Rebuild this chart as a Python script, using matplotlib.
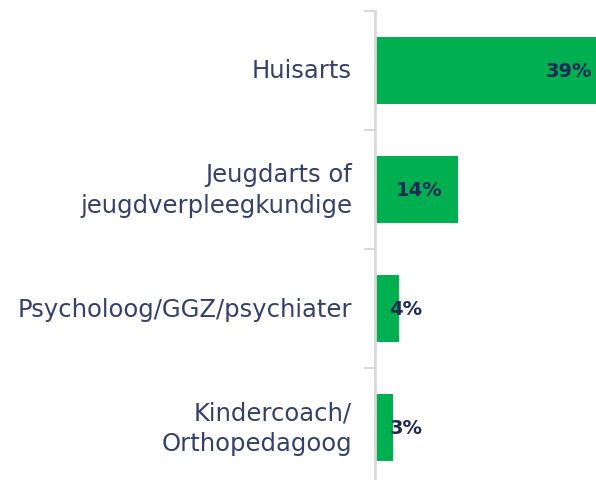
import matplotlib
matplotlib.use('Agg')
import matplotlib.pyplot as plt
import numpy as np

# Data
categories = ['Huisarts', 'Jeugdarts of\njeugdverpleegkundige',
              'Psycholoog/GGZ/psychiater', 'Kindercoach/\nOrthopedagoog']
values = [39, 14, 4, 3]

green = '#00B050'
label_color = '#34406A'
value_color = '#1F2A55'
axis_gray = '#D9D9D9'

fig = plt.figure(figsize=(5.96, 4.81), dpi=100)
ax = fig.add_axes([375 / 596, -7 / 481, 221 / 596, 476 / 481])

xmax = 37.3  # the longest bar runs past the right edge
y = np.arange(len(categories))
ax.barh(y, values, height=0.57, color=green, zorder=2)
ax.set_xlim(0, xmax)
ax.set_ylim(len(categories) - 0.5, -0.5)

# value labels
for yi, v in zip(y, values):
    if v > 30:
        ax.text(min(v, xmax) - 0.7, yi, f'{v}%', ha='right', va='center',
                fontsize=14, fontweight='bold', color=value_color, zorder=3)
    else:
        ax.text(max(v / 2 + 0.5, 5.25), yi, f'{v}%', ha='center', va='center',
                fontsize=14, fontweight='bold', color=value_color, zorder=3)

# category labels
for yi, c in zip(y, categories):
    ax.text(-23 / 221 * xmax, yi, c, ha='right', va='center', fontsize=17.5,
            color=label_color, linespacing=1.35)

for s in ['top', 'right', 'bottom']:
    ax.spines[s].set_visible(False)
ax.spines['left'].set_color(axis_gray)
ax.spines['left'].set_linewidth(2)
ax.set_xticks([])
ax.set_yticks(np.arange(len(categories) + 1) - 0.5)
ax.set_yticklabels([])
ax.tick_params(axis='y', length=8, width=1.5, color=axis_gray)

fig.savefig('out.png', dpi=100)
